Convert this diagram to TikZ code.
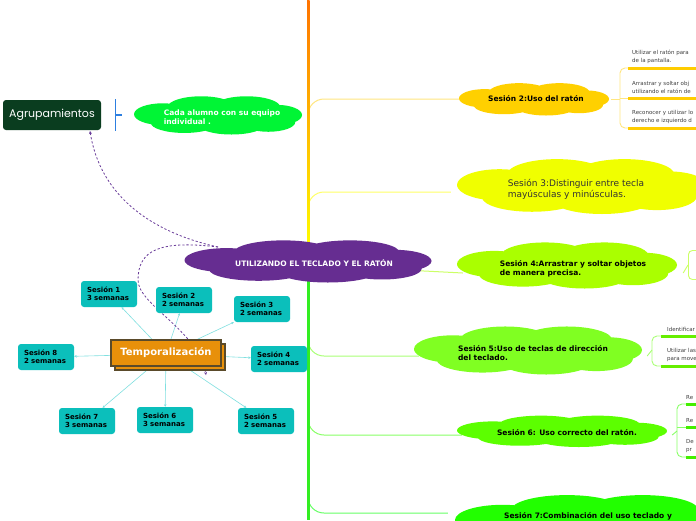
\documentclass[tikz,border=0pt]{standalone}
\usepackage{fontspec}
\setmainfont{DejaVu Sans}
\newfontfamily\agrfont{Poppins}
\usetikzlibrary{arrows.meta,backgrounds}
\definecolor{purp}{HTML}{662D91}
\definecolor{dashp}{HTML}{6A3D9A}
\definecolor{agrg}{HTML}{0A3D1F}
\definecolor{tealb}{HTML}{0BBFBB}
\definecolor{tealln}{HTML}{80E0E0}
\definecolor{tempo}{HTML}{E8900A}
\definecolor{tempb}{HTML}{5A4A2A}
\definecolor{cgreen}{HTML}{00F535}
\definecolor{bluebr}{HTML}{2D7FE0}
\definecolor{c2}{HTML}{FFD000}
\definecolor{c3}{HTML}{F0FF00}
\definecolor{c4}{HTML}{AAFF00}
\definecolor{c5}{HTML}{80FF22}
\definecolor{c6}{HTML}{5CFF00}
\definecolor{c7}{HTML}{22FF00}
\definecolor{b2}{HTML}{FFE680}
\definecolor{b3}{HTML}{FFFF66}
\definecolor{b4}{HTML}{CCFF66}
\definecolor{b5}{HTML}{AAFF77}
\definecolor{b6}{HTML}{88FF66}
\definecolor{b7}{HTML}{66FF66}
\definecolor{u2}{HTML}{FFCC00}
\definecolor{u5}{HTML}{66EE00}
\definecolor{u6}{HTML}{44EE00}
\definecolor{trunkg}{HTML}{33EE22}
\newcommand\mycloud[5]{%
  \begin{scope}[shift={(#1,#2)}, x=#3pt, y=-#4pt]
    \fill[#5] (0,0) ellipse[x radius=0.5, y radius=0.2]
      (-0.1,-0.2) ellipse[x radius=0.2, y radius=0.28]
      (0.17,-0.2) ellipse[x radius=0.2, y radius=0.28]
      (-0.33,-0.02) ellipse[x radius=0.17, y radius=0.28]
      (0.35,0) ellipse[x radius=0.15, y radius=0.26]
      (-0.2,0.2) ellipse[x radius=0.2, y radius=0.26]
      (0.08,0.24) ellipse[x radius=0.2, y radius=0.26]
      (0.3,0.18) ellipse[x radius=0.16, y radius=0.25];
  \end{scope}}
\tikzset{
  cloudbox/.style={rectangle, draw=none, inner sep=0pt, align=left},
  tealbox/.style={rectangle, rounded corners=3pt, fill=tealb, draw=none, minimum width=56, minimum height=25, text width=44, align=left, inner sep=6pt, font=\fontsize{7}{8.3}\selectfont\bfseries},
  tempbox/.style={rectangle, fill=tempo, draw=tempb, line width=1.2pt, minimum width=110, minimum height=26, inner sep=0pt},
  tealline/.style={draw=tealln, line width=0.6pt, -{Stealth[length=2.5pt,width=2.5pt]}},
  dashline/.style={draw=dashp, line width=0.8pt, dash pattern=on 2.2pt off 2pt, -{Stealth[length=3pt,width=3pt]}},
  subtext/.style={font=\fontsize{5.5}{8}\selectfont\mdseries, text=black!75, align=left, inner sep=0pt, anchor=south west},
  branch/.style={line width=1pt, rounded corners=16pt},
}
\begin{document}
\begin{tikzpicture}[x=1pt,y=-1pt, font=\fontsize{7.5}{9.5}\selectfont\bfseries]
\useasboundingbox (0,0) rectangle (696,520);
\clip (0,0) rectangle (696,520);

% ---------- clouds on the right ----------
\mycloud{534}{99}{150}{33}{c2}
\node[cloudbox, minimum width=150, minimum height=33] (s2) at (536,99) {Sesión 2:Uso del ratón};
\mycloud{582}{186}{250}{56}{c3}
\node[cloudbox, minimum width=250, minimum height=56, font=\fontsize{9}{11}\selectfont\mdseries, text=black!80] (s3) at (576,189) {Sesión 3:Distinguir entre tecla\\mayúsculas y minúsculas.};
\mycloud{567}{265}{220}{47}{c4}
\node[cloudbox, minimum width=220, minimum height=47] (s4) at (573,269) {Sesión 4:Arrastrar y soltar objetos\\de manera precisa.};
\mycloud{528}{350}{228}{49}{c5}
\node[cloudbox, minimum width=228, minimum height=49] (s5) at (533,353) {Sesión 5:Uso de teclas de dirección\\del teclado.};
\mycloud{562}{431}{210}{32}{c6}
\node[cloudbox, minimum width=210, minimum height=32] (s6) at (567,433) {Sesión 6: Uso correcto del ratón.};
\mycloud{595}{521}{280}{54}{c7}
\node[cloudbox, minimum width=280, minimum height=54] (s7) at (588,516) {Sesión 7:Combinación del uso teclado y};

% ---------- branches from trunk ----------
\begin{scope}[on background layer]
\fill[white] (0,0) rectangle (696,520);
\draw[branch, b2] (308,140) |- (s2.west);
\draw[branch, b3] (308,225) |- ([yshift=-3]s3.west);
\draw[branch, b4] (308,265) -- ([yshift=-4]s4.west);
\draw[branch, b5] (308,310) |- ([yshift=-3]s5.west);
\draw[branch, b6] (308,395) |- ([yshift=-2]s6.west);
\draw[branch, b7] (308,480) |- ([yshift=3]s7.west);
\end{scope}

% trunk
\shade[top color=orange!90!red, bottom color=yellow] (307,0) rectangle (309.5,250);
\fill[trunkg] (307,262) rectangle (309.5,520);

% ---------- sub-items of Sesion 2 ----------
\node[subtext] (t21) at (632,64) {Utilizar el ratón para\\de la pantalla.};
\node[subtext] (t22) at (632,94) {Arrastrar y soltar obj\\utilizando el ratón de};
\node[subtext] (t23) at (632,124) {Reconocer y utilizar lo\\derecho e izquierdo d};
\draw[u2, line width=3pt] (628,68) -- (700,68);
\draw[u2, line width=3pt] (628,98) -- (700,98);
\draw[u2, line width=3pt] (628,128) -- (700,128);
\draw[b2, line width=0.9pt] (s2.east) -- (620,99);
\draw[b2, line width=0.9pt, rounded corners=5pt] (628,68) -- (620,68) -- (620,128) -- (628,128);
\draw[b2, line width=0.9pt] (620,98) -- (628,98);

% ---------- sub-item of Sesion 4 ----------
\node[draw=b4, line width=0.9pt, rounded corners=4pt, minimum width=40, minimum height=29, anchor=west, inner sep=0pt] (t41) at (688,265) {};
\draw[b4, line width=0.9pt] ([yshift=-4]s4.east) -- (t41.west);

% ---------- sub-items of Sesion 5 ----------
\node[subtext] (t51) at (667,332) {Identificar};
\node[subtext] (t52) at (667,362) {Utilizar las\\para move};
\draw[u5, line width=3pt] (661,336) -- (700,336);
\draw[u5, line width=3pt] (661,366) -- (700,366);
\draw[b5, line width=0.9pt] ([yshift=-3]s5.east) -- (652,350);
\draw[b5, line width=0.9pt, rounded corners=5pt] (661,336) -- (652,336) -- (652,366) -- (661,366);

% ---------- sub-items of Sesion 6 ----------
\node[subtext] (t61) at (686,400) {Re};
\node[subtext] (t62) at (686,423) {Re};
\node[subtext] (t63) at (686,453) {De\\pr};
\draw[u6, line width=3pt] (686,404) -- (700,404);
\draw[u6, line width=3pt] (686,427) -- (700,427);
\draw[u6, line width=3pt] (686,457) -- (700,457);
\draw[b6, line width=0.9pt] ([yshift=-2]s6.east) -- (677,431);
\draw[b6, line width=0.9pt, rounded corners=5pt] (686,404) -- (677,404) -- (677,457) -- (686,457);
\draw[b6, line width=0.9pt] (677,427) -- (686,427);

% ---------- left side ----------
\node[rectangle, rounded corners=3pt, fill=agrg, minimum width=98, minimum height=30, inner sep=0pt, font=\agrfont\fontsize{11}{12}\selectfont, text=white] (agr) at (52,115) {Agrupamientos};
\draw[bluebr, line width=1.6pt] (115.5,99) -- (115.5,131);
\draw[bluebr, line width=1.2pt] (115.5,115) -- (122,115);
\mycloud{218}{115}{168}{39}{cgreen}
\node[cloudbox, text=white, minimum width=168, minimum height=39] (grp) at (222,117) {Cada alumno con su equipo\\individual .};

% teal session boxes
\node[tealbox] (q1) at (109,294) {Sesión 1\\3 semanas};
\node[tealbox] (q2) at (184,300) {Sesión 2\\2 semanas};
\node[tealbox] (q3) at (262,309) {Sesión 3\\2 semanas};
\node[tealbox] (q4) at (279,359) {Sesión 4\\2 semanas};
\node[tealbox] (q5) at (266,421) {Sesión 5\\2 semanas};
\node[tealbox] (q6) at (165,420) {Sesión 6\\3 semanas};
\node[tealbox] (q7) at (87,421) {Sesión 7\\3 semanas};
\node[tealbox] (q8) at (46,357) {Sesión 8\\2 semanas};

\coordinate (tc) at (166,354);
\begin{scope}[on background layer]
\foreach \q in {q1,q2,q3,q4,q5,q6,q7,q8} \draw[tealline] (tc) -- (\q);
\end{scope}

% purple central cloud and dashed links
\mycloud{308}{261}{247}{43}{purp}
\node[cloudbox, text=white, minimum width=247, minimum height=43] (pc) at (314,263) {UTILIZANDO EL TECLADO Y EL RATÓN};
\coordinate (ps) at (218,247);
\coordinate (agrend) at (90,131);
\coordinate (tempend) at (206,375);
\begin{scope}[on background layer]
\draw[dashline] (ps) .. controls (150,232) and (100,195) .. (agrend);
\draw[dashline] (ps) .. controls (160,240) and (138,250) .. (138,280) .. controls (138,305) and (198,330) .. (tempend);
\end{scope}

% Temporalizacion
\node[tempbox] (tsh) at (170,357) {};
\node[tempbox, text=white, font=\fontsize{10}{12}\selectfont\bfseries] (temp) at (166,353) {Temporalización};
\end{tikzpicture}
\end{document}
